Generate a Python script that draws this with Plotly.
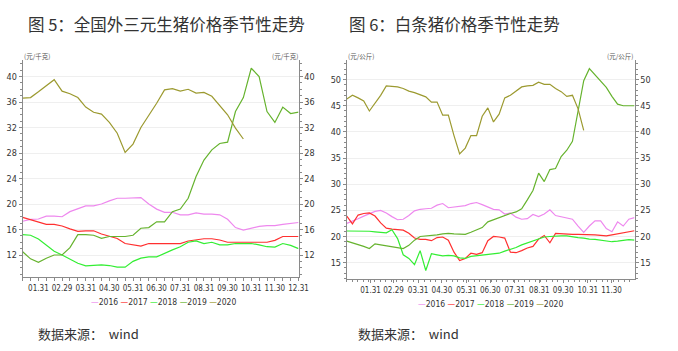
import plotly.graph_objects as go
import pandas as pd

years = ["2016", "2017", "2018", "2019", "2020"]
colors = ["#ee88ee", "#ff3030", "#33ee33", "#66b32e", "#9c9a30"]

# ---- Left chart: 36 ten-day periods ----
periods = ["01.10", "01.20", "01.31", "02.10", "02.20", "02.29", "03.10", "03.20", "03.31",
           "04.10", "04.20", "04.30", "05.10", "05.20", "05.31", "06.10", "06.20", "06.30",
           "07.10", "07.20", "07.31", "08.10", "08.20", "08.31", "09.10", "09.20", "09.30",
           "10.10", "10.20", "10.31", "11.10", "11.20", "11.30", "12.10", "12.20", "12.31"]
left_ticklabels = ["01.31", "02.29", "03.31", "04.30", "05.31", "06.30",
                   "07.31", "08.31", "09.30", "10.31", "11.30", "12.31"]

L2016 = [17.3, 17.6, 17.65, 18.1, 18.1, 18.0, 18.8, 19.2, 19.7, 19.7, 20.0, 20.5, 20.9, 20.9, 21.0, 21.0, 20.0, 19.2,
         18.7, 18.7, 18.3, 18.3, 18.6, 18.4, 18.4, 18.3, 17.6, 16.3, 15.9, 16.2, 16.5, 16.6, 16.6, 16.8, 16.9, 17.1]
L2017 = [17.9, 17.5, 17.2, 16.8, 16.8, 16.55, 16.1, 15.7, 15.8, 15.8, 15.3, 14.9, 14.6, 13.8, 13.6, 13.4, 13.8, 13.8,
         13.9, 13.8, 13.8, 14.2, 14.35, 14.55, 14.55, 14.35, 14.0, 14.0, 14.0, 14.0, 14.0, 14.0, 14.3, 14.9, 14.9, 14.9]
L2018 = [15.2, 15.1, 14.5, 13.5, 12.6, 12.0, 11.3, 10.7, 10.3, 10.35, 10.45, 10.35, 10.1, 10.1, 11.0, 11.5, 11.7, 11.7,
         12.3, 12.8, 13.3, 14.0, 14.2, 13.8, 14.0, 13.6, 13.6, 13.8, 13.8, 13.8, 13.6, 13.3, 13.25, 13.8, 13.5, 13.0]
L2019 = [12.5, 11.4, 10.85, 11.5, 12.0, 12.0, 13.15, 15.2, 15.2, 15.1, 14.6, 14.9, 14.9, 14.9, 15.1, 16.2, 16.3, 17.2,
         17.2, 18.8, 19.2, 20.9, 24.3, 26.9, 28.5, 29.5, 29.7, 34.5, 36.7, 41.3, 40.0, 34.5, 32.8, 35.2, 34.2, 34.4]
L2020 = [36.6, 36.7, 37.6, 38.6, 39.5, 37.7, 37.3, 36.7, 35.2, 34.4, 34.1, 32.8, 31.1, 28.1, 29.4, 32.0, 33.8, 35.8,
         37.9, 38.1, 37.7, 38.0, 37.4, 37.5, 36.9, 35.5, 34.0, 31.9, 30.2]
left_series = [L2016, L2017, L2018, L2019, L2020]

# ---- Right chart: 52 weekly observations ----
weeks = pd.date_range("2020-01-01", "2020-12-29", periods=52)
right_tickdates = ["2020-01-31", "2020-02-29", "2020-03-31", "2020-04-30", "2020-05-31", "2020-06-30",
                   "2020-07-31", "2020-08-31", "2020-09-30", "2020-10-31", "2020-11-30"]
right_ticklabels = ["01.31", "02.29", "03.31", "04.30", "05.31", "06.30",
                    "07.31", "08.31", "09.30", "10.31", "11.30"]

R2016 = [22.5, 22.9, 23.4, 23.9, 24.3, 24.8, 25.0, 24.5, 23.8, 23.2, 23.3, 24.0, 24.9, 25.2, 25.3, 25.4, 26.0, 26.3,
         25.5, 25.6, 25.8, 25.9, 26.3, 26.5, 26.1, 25.6, 25.2, 25.1, 24.3, 24.5, 23.7, 23.3, 23.4, 24.2, 23.8, 24.3,
         25.1, 24.0, 23.8, 23.5, 23.3, 22.0, 20.8, 22.0, 23.0, 23.0, 21.5, 20.9, 22.8, 22.0, 23.3, 23.6]
R2017 = [23.9, 22.4, 24.1, 24.4, 24.5, 23.9, 22.6, 21.6, 21.4, 21.3, 21.2, 20.6, 19.7, 19.45, 19.45, 19.2, 19.8, 19.9,
         19.3, 17.0, 15.4, 15.8, 16.8, 16.6, 16.9, 19.2, 20.0, 19.9, 19.7, 17.0, 16.9, 17.3, 17.8, 18.1, 19.5, 20.2,
         18.8, 20.6, 20.5, 20.5, 20.4, 20.4, 20.4, 20.4, 20.3, 20.2, 20.1, 20.3, 20.5, 20.8, 21.0, 21.1]
R2018 = [21.05, 21.05, 21.0, 21.0, 21.0, 20.9, 20.8, 20.7, 21.3, 19.6, 16.5, 15.8, 14.6, 17.3, 13.5, 16.7, 16.5, 16.3,
         16.4, 16.3, 15.9, 15.8, 16.2, 16.3, 16.5, 16.6, 16.6, 16.8, 17.2, 17.5, 17.9, 18.4, 18.8, 19.2, 19.6, 19.9,
         20.0, 20.1, 20.1, 20.1, 19.9, 19.8, 19.7, 19.5, 19.45, 19.3, 19.1, 19.0, 19.1, 19.3, 19.4, 19.3]
R2019 = [19.1, 18.8, 18.5, 18.1, 17.7, 18.6, 18.4, 18.2, 18.0, 17.8, 17.7, 18.3, 19.3, 20.0, 20.1, 20.1, 20.3, 20.5,
         20.6, 20.5, 20.4, 20.4, 20.8, 21.2, 21.7, 22.8, 23.2, 23.7, 24.0, 24.4, 24.7, 25.3, 27.0, 28.8, 32.1, 30.5,
         32.8, 33.0, 35.3, 36.5, 38.2, 44.0, 49.8, 52.1, 50.9, 49.5, 48.5, 46.8, 45.3, 45.0, 45.0, 45.0]
R2020 = [46.3, 47.0, 46.5, 45.9, 44.0, 45.5, 47.0, 48.8, 48.7, 48.6, 48.3, 47.8, 47.5, 47.1, 46.7, 45.7, 45.7, 43.2,
         43.2, 39.3, 35.8, 36.9, 39.3, 39.3, 43.0, 44.6, 41.9, 43.4, 46.5, 47.0, 47.8, 48.6, 48.8, 48.9, 49.5, 49.1,
         49.1, 48.3, 47.7, 46.8, 47.0, 44.4, 40.3]
right_series = [R2016, R2017, R2018, R2019, R2020]

W, H = 678, 351
TICKFONT = dict(family="Liberation Sans Narrow, DejaVu Sans Condensed, Arial Narrow, sans-serif", size=9, color="#333")
CJK = "Noto Sans CJK SC, Noto Sans, sans-serif"
AXC = "#8a8a8a"

fig = go.Figure()
for i, (name, col, vals) in enumerate(zip(years, colors, left_series)):
    fig.add_trace(go.Scatter(x=periods[:len(vals)], y=vals, mode="lines", name=name,
                             line=dict(color=col, width=1.2), showlegend=False,
                             xaxis="x", yaxis="y3" if i == len(years) - 1 else "y"))
for i, (name, col, vals) in enumerate(zip(years, colors, right_series)):
    fig.add_trace(go.Scatter(x=weeks[:len(vals)], y=vals, mode="lines", name=name,
                             line=dict(color=col, width=1.2), showlegend=False,
                             xaxis="x2", yaxis="y4" if i == len(years) - 1 else "y2"))

def px(x):
    return x / W

def py(y):
    return 1 - y / H

L_YR = [8.55, 42.59]
R_YR = [11.87, 53.75]
ydom_l = [py(277), py(60)]
ydom_r = [py(279), py(60)]

yax_common = dict(showline=True, linecolor=AXC, linewidth=1, ticks="outside", ticklen=3, tickcolor=AXC,
                  tickfont=TICKFONT, zeroline=False,
                  minor=dict(ticks="outside", ticklen=2, tickcolor=AXC, dtick=1, showgrid=False))

fig.update_layout(
    width=W, height=H, margin=dict(l=0, r=0, t=0, b=0),
    paper_bgcolor="white", plot_bgcolor="white", showlegend=False,
    xaxis=dict(domain=[px(23), px(303)], anchor="y", type="category", range=[0, len(periods) - 1],
               tickmode="array", tickvals=periods,
               ticktext=[p if p in left_ticklabels else "" for p in periods],
               showline=True, linecolor=AXC, ticks="outside", ticklen=3, tickcolor=AXC,
               tickfont=dict(TICKFONT, size=8), showgrid=False, tickangle=0),
    yaxis=dict(domain=ydom_l, anchor="x", range=L_YR, dtick=4, tick0=0, showgrid=True,
               gridcolor="#efefef", gridwidth=1, **yax_common),
    yaxis3=dict(overlaying="y", anchor="x", side="right", range=L_YR, dtick=4, tick0=0, showgrid=False,
                **yax_common),
    xaxis2=dict(domain=[px(352), px(644)], anchor="y2", type="date",
                range=["2020-01-01", "2020-12-29"], tickmode="array",
                tickvals=right_tickdates, ticktext=right_ticklabels,
                showline=True, linecolor=AXC, ticks="outside", ticklen=3, tickcolor=AXC,
                tickfont=dict(TICKFONT, size=8), showgrid=False, tickangle=0,
                minor=dict(ticks="outside", ticklen=2, tickcolor=AXC, dtick=7 * 86400000,
                           tick0="2020-01-01", showgrid=False)),
    yaxis2=dict(domain=ydom_r, anchor="x2", range=R_YR, dtick=5, tick0=0, showgrid=True,
                gridcolor="#efefef", gridwidth=1, **yax_common),
    yaxis4=dict(overlaying="y2", anchor="x2", side="right", range=R_YR, dtick=5, tick0=0, showgrid=False,
                **yax_common),
)

def legend_text():
    parts = [f"<span style='color:{c}'>—</span>{n}" for n, c in zip(years, colors)]
    return " ".join(parts)

ann = [
    dict(text="图 5：全国外三元生猪价格季节性走势", x=px(26), y=py(24), xanchor="left", yanchor="middle",
         font=dict(family=CJK, size=16.5, color="#333")),
    dict(text="图 6：白条猪价格季节性走势", x=px(352), y=py(24), xanchor="left", yanchor="middle",
         font=dict(family=CJK, size=16.5, color="#333")),
    dict(text="(元/千克)", x=px(22), y=py(56), xanchor="left", yanchor="middle",
         font=dict(family=CJK, size=6.5, color="#555")),
    dict(text="(元/千克)", x=px(304), y=py(56), xanchor="right", yanchor="middle",
         font=dict(family=CJK, size=6.5, color="#555")),
    dict(text="(元/公斤)", x=px(351), y=py(56), xanchor="left", yanchor="middle",
         font=dict(family=CJK, size=6.5, color="#555")),
    dict(text="(元/公斤)", x=px(645), y=py(56), xanchor="right", yanchor="middle",
         font=dict(family=CJK, size=6.5, color="#555")),
    dict(text=legend_text(), x=px(166), y=py(302), xanchor="center", yanchor="middle",
         font=dict(TICKFONT, size=8.5)),
    dict(text=legend_text(), x=px(498), y=py(304), xanchor="center", yanchor="middle",
         font=dict(TICKFONT, size=8.5)),
    dict(text="数据来源：  wind", x=px(37), y=py(333), xanchor="left", yanchor="middle",
         font=dict(family=CJK, size=13, color="#333")),
    dict(text="数据来源：  wind", x=px(361), y=py(333), xanchor="left", yanchor="middle",
         font=dict(family=CJK, size=13, color="#333")),
]
for a in ann:
    a.update(xref="paper", yref="paper", showarrow=False)
fig.update_layout(annotations=ann)

fig.write_html("out.html")
